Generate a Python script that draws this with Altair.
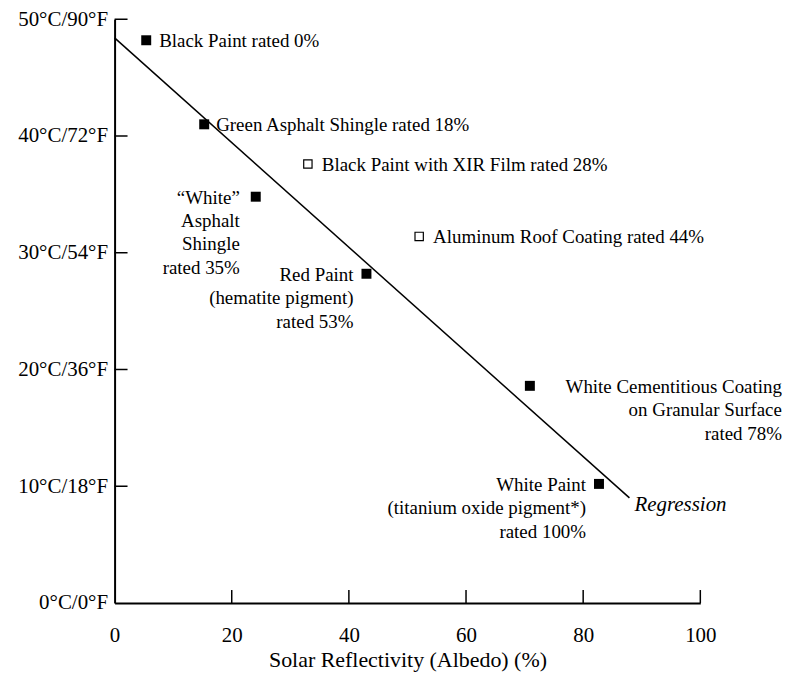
import altair as alt
import pandas as pd

# --- data ---
materials = ["Black Paint", "Green Asphalt Shingle", "Black Paint with XIR Film",
             "White Asphalt Shingle", "Aluminum Roof Coating", "Red Paint",
             "White Cementitious Coating", "White Paint"]
albedo = [5.4, 15.3, 33.0, 24.1, 52.0, 43.0, 70.9, 82.7]
temp_rise = [48.2, 41.0, 37.6, 34.8, 31.4, 28.2, 18.6, 10.2]
filled = [True, True, False, True, False, True, True, True]
labels = ["Black Paint rated 0%",
          "Green Asphalt Shingle rated 18%",
          "Black Paint with XIR Film rated 28%",
          "\u201cWhite\u201d\nAsphalt\nShingle\nrated 35%",
          "Aluminum Roof Coating rated 44%",
          "Red Paint\n(hematite pigment)\nrated 53%",
          "White Cementitious Coating\non Granular Surface\nrated 78%",
          "White Paint\n(titanium oxide pigment*)\nrated 100%"]

reg_x = [0.0, 87.9]
reg_y = [48.4, 9.0]

x_ticks = [0, 20, 40, 60, 80, 100]
y_ticks = [0, 10, 20, 30, 40, 50]
y_tick_labels = ["0\u00b0C/0\u00b0F", "10\u00b0C/18\u00b0F", "20\u00b0C/36\u00b0F",
                 "30\u00b0C/54\u00b0F", "40\u00b0C/72\u00b0F", "50\u00b0C/90\u00b0F"]

FONT = "Liberation Serif"
W, H = 588, 586
FS = 19

df = pd.DataFrame({"material": materials, "albedo": albedo, "temp": temp_rise,
                   "filled": filled, "label": labels})
reg = pd.DataFrame({"albedo": reg_x, "temp": reg_y})
xt = pd.DataFrame({"v": x_ticks[1:]})
yt = pd.DataFrame({"v": y_ticks[1:]})

label_expr = "[" + ",".join("'%s'" % s for s in y_tick_labels) + "][round(datum.value/10)]"

xs = alt.Scale(domain=[0, 100], nice=False, zero=True)
ys = alt.Scale(domain=[0, 50], nice=False, zero=True)

X = alt.X("albedo:Q", scale=xs,
          axis=alt.Axis(values=x_ticks, ticks=False, grid=False, domainColor="black",
                        domainWidth=2, labelFont=FONT, labelFontSize=21, labelColor="black",
                        labelPadding=22, labelFlush=False,
                        title="Solar Reflectivity (Albedo) (%)",
                        titleFont=FONT, titleFontSize=22, titleFontWeight="normal",
                        titleColor="black", titlePadding=4))
Y = alt.Y("temp:Q", scale=ys,
          axis=alt.Axis(values=y_ticks, ticks=False, grid=False, domainColor="black",
                        domainWidth=2, labelFont=FONT, labelFontSize=21, labelColor="black",
                        labelPadding=7, labelFlush=False, labelExpr=label_expr, title=None))

line = alt.Chart(reg).mark_line(color="black", strokeWidth=1.5).encode(x=X, y=Y)

xtick = alt.Chart(xt).mark_rule(color="black", strokeWidth=1.5).encode(
    x=alt.X("v:Q", scale=xs), y=alt.value(H), y2=alt.value(H - 13))
ytick = alt.Chart(yt).mark_rule(color="black", strokeWidth=1.5).encode(
    y=alt.Y("v:Q", scale=ys), x=alt.value(0), x2=alt.value(13))

pts_f = alt.Chart(df[df.filled]).mark_square(size=100, color="black", opacity=1).encode(
    x=alt.X("albedo:Q", scale=xs), y=alt.Y("temp:Q", scale=ys))
pts_o = alt.Chart(df[~df.filled]).mark_square(size=70, fill="white", stroke="black",
                                              strokeWidth=1.2, opacity=1).encode(
    x=alt.X("albedo:Q", scale=xs), y=alt.Y("temp:Q", scale=ys))

def lab(i, align, dx, dy, baseline="middle"):
    return alt.Chart(df.iloc[[i]]).mark_text(
        font=FONT, fontSize=FS, color="black", align=align, baseline=baseline,
        dx=dx, dy=dy, lineBreak="\n", lineHeight=23.5).encode(
        x=alt.X("albedo:Q", scale=xs), y=alt.Y("temp:Q", scale=ys), text="label:N")

texts = [
    lab(0, "left", 13, 1),
    lab(1, "left", 12, 1),
    lab(2, "left", 14, 1),
    lab(3, "right", -16, -8, "top"),
    lab(4, "left", 14, 1),
    lab(5, "right", -13, -8, "top"),
    lab(6, "right", 253, -8, "top"),
    lab(7, "right", -13, -8, "top"),
]

reg_text = alt.Chart(reg.iloc[[1]]).mark_text(
    font=FONT, fontSize=21, fontStyle="italic", color="black", align="left",
    baseline="middle", dx=5, dy=7).encode(
    x=alt.X("albedo:Q", scale=xs), y=alt.Y("temp:Q", scale=ys), text=alt.value("Regression"))

chart = alt.layer(line, xtick, ytick, pts_f, pts_o, *texts, reg_text).properties(
    width=W, height=H,
    autosize=alt.AutoSizeParams(type="none"),
    padding={"left": 107, "top": 10, "right": 82, "bottom": 70},
    background="white",
).configure_view(stroke=None)

chart.save("out.html", embed_options={"renderer": "svg", "actions": False})
